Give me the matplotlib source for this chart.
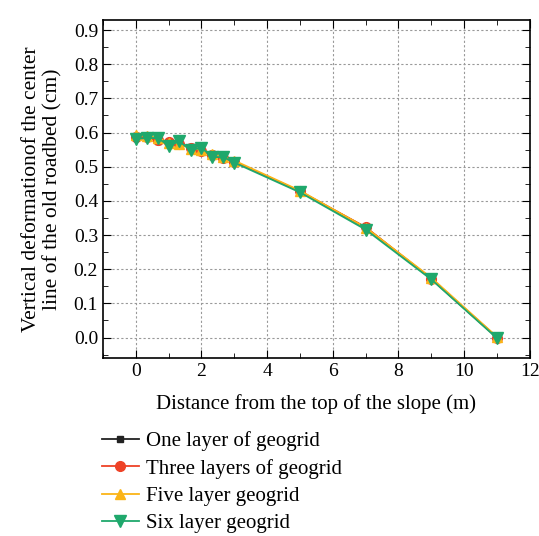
import matplotlib
matplotlib.use("Agg")
import matplotlib.pyplot as plt
from matplotlib.ticker import MultipleLocator

plt.rcParams['font.family'] = ['Liberation Serif', 'DejaVu Serif']

x = [0, 0.33, 0.67, 1.0, 1.33, 1.67, 2.0, 2.33, 2.67, 3.0, 5, 7, 9, 11]
one = [0.590, 0.588, 0.575, 0.572, 0.565, 0.558, 0.548, 0.538, 0.528, 0.515, 0.428, 0.322, 0.172, 0.0]
three = [0.588, 0.586, 0.578, 0.573, 0.568, 0.556, 0.545, 0.535, 0.527, 0.515, 0.428, 0.323, 0.172, 0.0]
five = [0.592, 0.590, 0.585, 0.570, 0.568, 0.553, 0.550, 0.538, 0.528, 0.518, 0.430, 0.322, 0.175, 0.002]
six = [0.582, 0.584, 0.584, 0.562, 0.574, 0.548, 0.556, 0.528, 0.528, 0.512, 0.425, 0.316, 0.170, -0.002]

labels = ["One layer of geogrid", "Three layers of geogrid", "Five layer geogrid", "Six layer geogrid"]
colors = ["#222222", "#ee4226", "#fbb417", "#1fa86c"]
markers = ["s", "o", "^", "v"]
sizes = [5, 7, 7.5, 8.5]

fig = plt.figure(figsize=(5.39, 5.36), dpi=100)
ax = fig.add_axes([0.191, 0.332, 0.792, 0.631])

for ys, lab, c, m, s in zip([one, three, five, six], labels, colors, markers, sizes):
    ax.plot(x, ys, color=c, marker=m, markersize=s, linewidth=1.3, label=lab)

ax.set_xlim(-1, 12)
ax.set_ylim(-0.06, 0.93)
ax.xaxis.set_minor_locator(MultipleLocator(1))
ax.yaxis.set_minor_locator(MultipleLocator(0.05))
ax.set_xticks([0, 2, 4, 6, 8, 10, 12])
ax.set_yticks([0.0, 0.1, 0.2, 0.3, 0.4, 0.5, 0.6, 0.7, 0.8, 0.9])
ax.set_yticklabels(["0.0", "0.1", "0.2", "0.3", "0.4", "0.5", "0.6", "0.7", "0.8", "0.9"])
ax.tick_params(which='both', direction='in', top=True, right=True, labelsize=14)
ax.tick_params(which='major', length=6)
ax.tick_params(which='minor', length=3.5)
ax.grid(True, which='major', linestyle=(0, (2, 2)), color='#999999', linewidth=0.8)
for sp in ax.spines.values():
    sp.set_linewidth(1.2)

ax.set_xlabel("Distance from the top of the slope (m)", fontsize=15, labelpad=10)
ax.set_ylabel("Vertical deformationof the center\nline of the old roadbed (cm)", fontsize=15.5,
              labelpad=8, linespacing=1.15)

ax.legend(loc='upper left', bbox_to_anchor=(-0.003, -0.217), frameon=False, fontsize=15,
          handlelength=1.8, handletextpad=0.35, labelspacing=0.36, borderaxespad=0, borderpad=0)

fig.savefig("out.png", dpi=100)
